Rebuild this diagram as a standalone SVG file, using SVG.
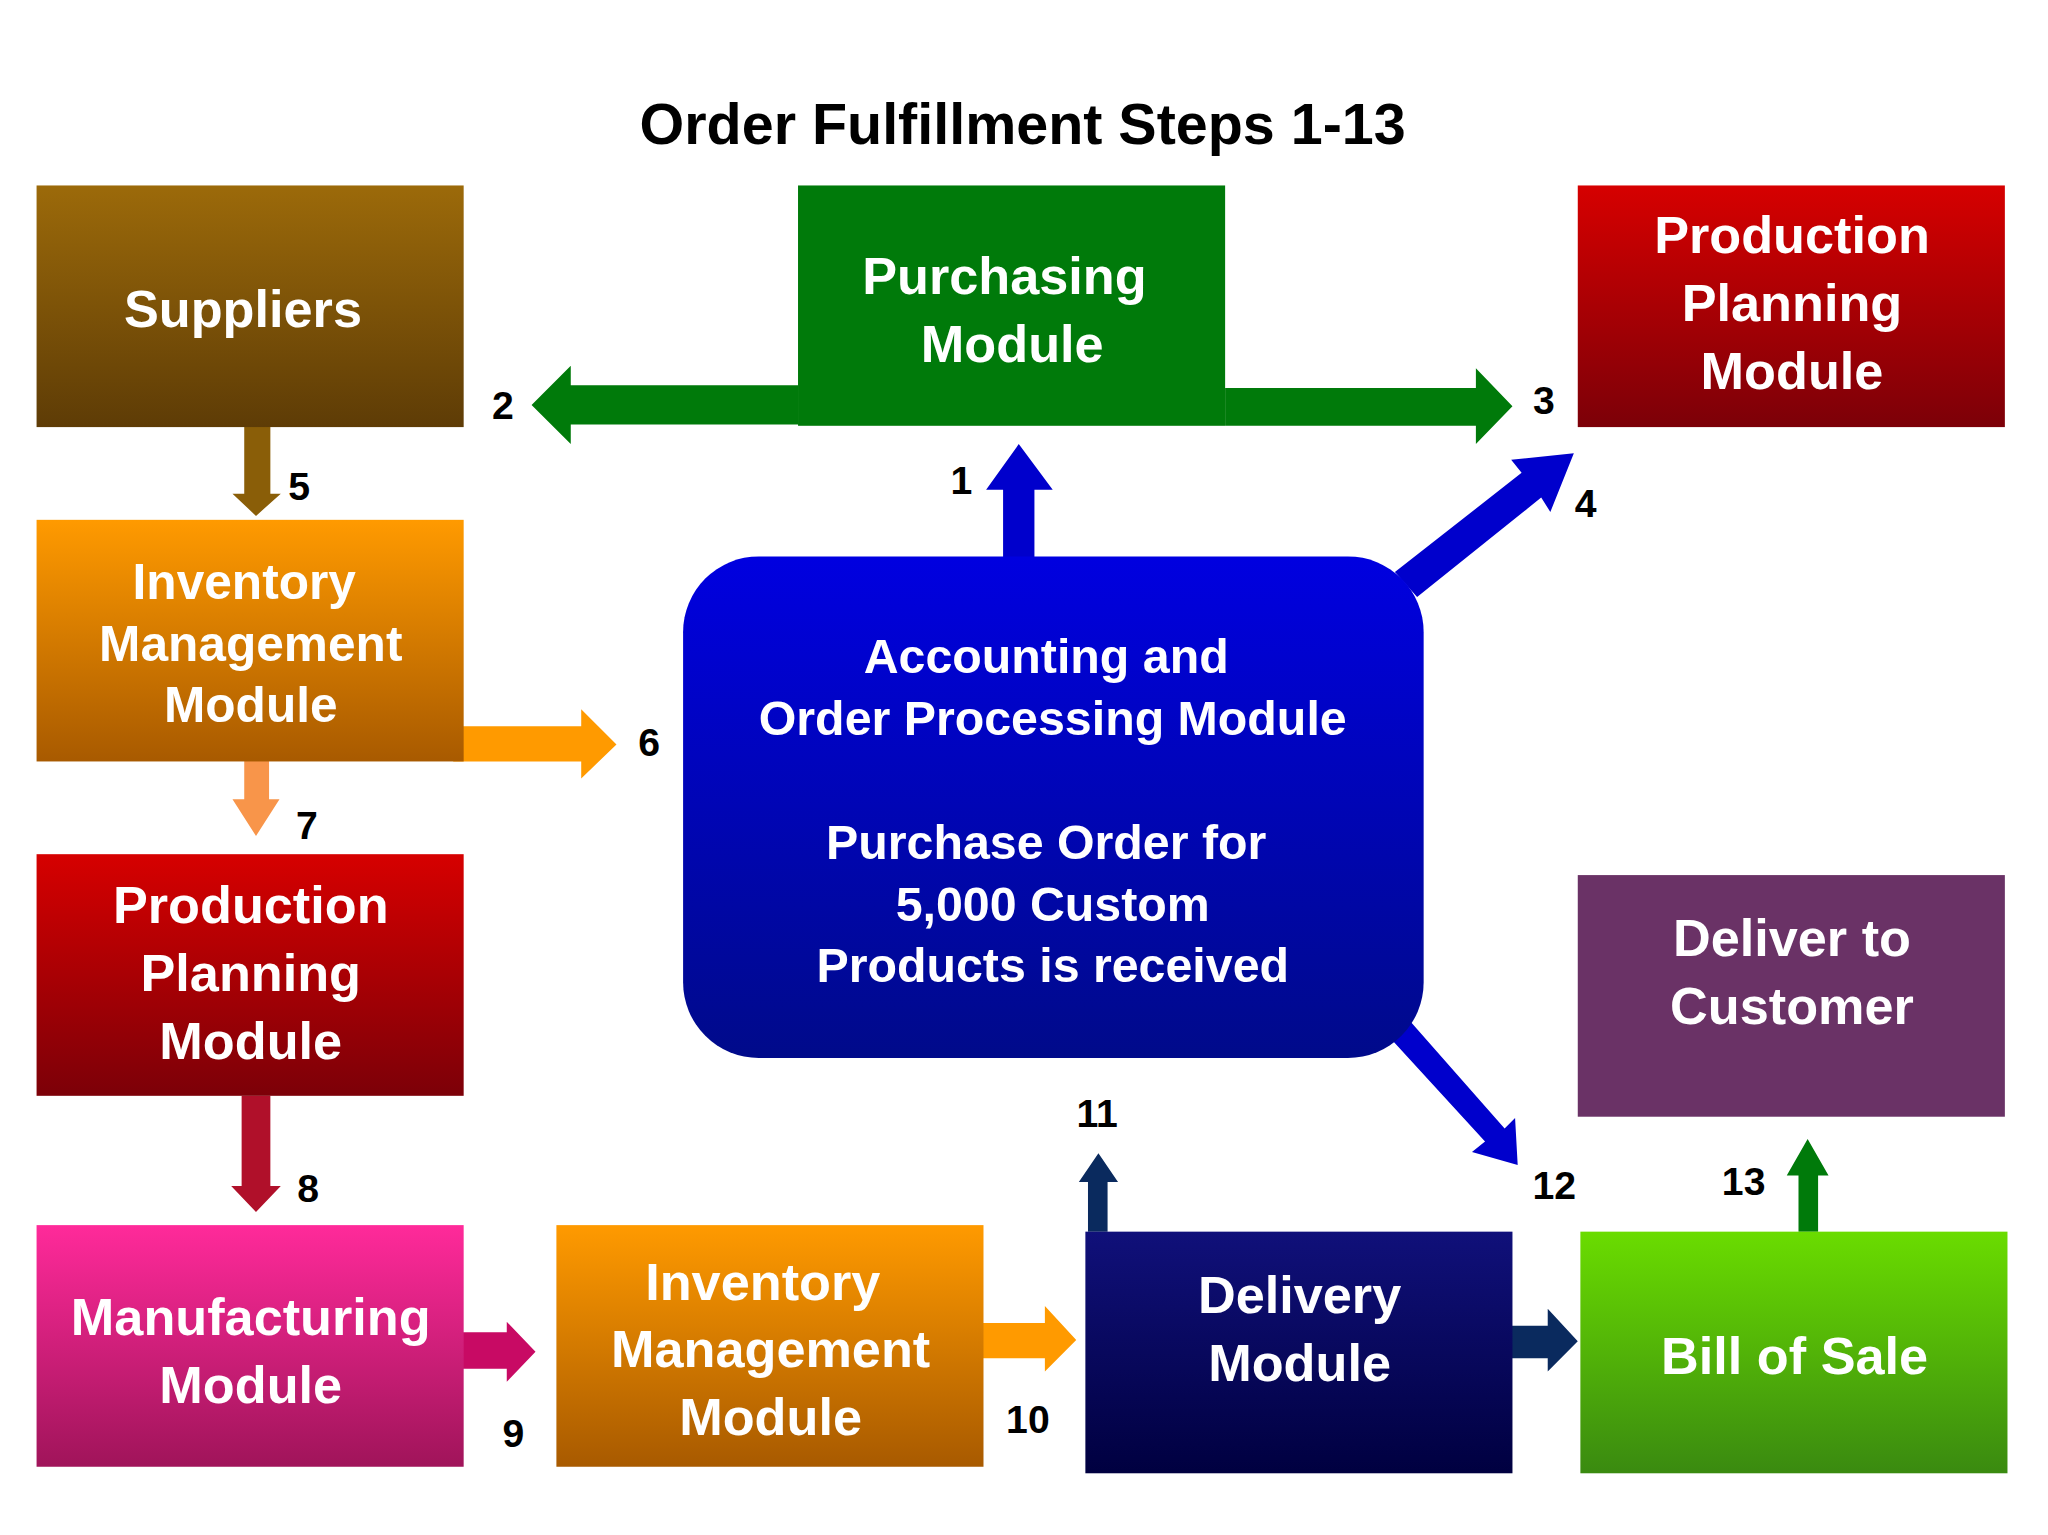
<svg xmlns="http://www.w3.org/2000/svg" width="2048" height="1535" viewBox="0 0 2048 1535">
<defs>
<linearGradient id="gSup" x1="0" y1="0" x2="0" y2="1"><stop offset="0" stop-color="#9c6a0a"/><stop offset="1" stop-color="#5e3c06"/></linearGradient>
<linearGradient id="gRed" x1="0" y1="0" x2="0" y2="1"><stop offset="0" stop-color="#d60000"/><stop offset="1" stop-color="#7c0008"/></linearGradient>
<linearGradient id="gOr" x1="0" y1="0" x2="0" y2="1"><stop offset="0" stop-color="#ff9a00"/><stop offset="1" stop-color="#a85a00"/></linearGradient>
<linearGradient id="gPink" x1="0" y1="0" x2="0" y2="1"><stop offset="0" stop-color="#ff2a9a"/><stop offset="1" stop-color="#a0145a"/></linearGradient>
<linearGradient id="gNavy" x1="0" y1="0" x2="0" y2="1"><stop offset="0" stop-color="#10107a"/><stop offset="1" stop-color="#000040"/></linearGradient>
<linearGradient id="gGreen" x1="0" y1="0" x2="0" y2="1"><stop offset="0" stop-color="#6adc00"/><stop offset="1" stop-color="#3a8a10"/></linearGradient>
<linearGradient id="gBlue" x1="0" y1="0" x2="0" y2="1"><stop offset="0" stop-color="#0000e0"/><stop offset="1" stop-color="#000a8a"/></linearGradient>
</defs>
<style>
text{font-family:"Liberation Sans",Arial,sans-serif;font-weight:bold;text-anchor:middle}
.b{fill:#fff;font-size:40px}
.n{fill:#000;font-size:30px}
</style>
<rect width="2048" height="1535" fill="#fff"/>
<g transform="scale(1.3061)">
<text x="783" y="110" style="font-size:44px;fill:#000">Order Fulfillment Steps 1-13</text>
<g id="connectors">
<polygon points="611,295 437,295 437,280 407,310 437,340 437,325 611,325" fill="#007a0a"/>
<polygon points="938,297 1130,297 1130,282 1158,311 1130,340 1130,326 938,326" fill="#007a0a"/>
<polygon points="768,430 768,375 755,375 780,340 806,375 792,375 792,430" fill="#0000cc"/>
<polygon points="1068,438 1165,362 1157,352 1205,347 1187,392 1180,381 1085,457" fill="#0000cc"/>
<polygon points="1060,790 1137,874 1127,882 1162,892 1160,856 1152,864 1078,780" fill="#0000cc"/>
<polygon points="187,327 187,378 178,378 196,395 215,378 207,378 207,327" fill="#8a5e08"/>
<polygon points="347,556 445,556 445,543 472,570 445,596 445,583 347,583" fill="#ff9a00"/>
<polygon points="187,573 187,612 178,612 196,640 214,612 206,612 206,573" fill="#f8954a"/>
<polygon points="185,839 185,908 177,908 196,928 215,908 207,908 207,839" fill="#b0102a"/>
<polygon points="350,1020 388,1020 388,1012 410,1035 388,1058 388,1048 350,1048" fill="#c80a64"/>
<polygon points="750,1013 800,1013 800,1000 824,1026 800,1050 800,1040 750,1040" fill="#ff9a00"/>
<polygon points="833,943 833,905 826,905 841,883 856,905 848,905 848,943" fill="#0a2a5e"/>
<polygon points="1155,1015 1185,1015 1185,1002 1208,1027 1185,1050 1185,1040 1155,1040" fill="#0a2a5e"/>
<polygon points="1377,943 1377,900 1368,900 1384,872 1400,900 1392,900 1392,943" fill="#007a0a"/>
<text class="n" x="385" y="321">2</text>
<text class="n" x="1182" y="317">3</text>
<text class="n" x="736" y="378">1</text>
<text class="n" x="1214" y="396">4</text>
<text class="n" x="229" y="383">5</text>
<text class="n" x="497" y="579">6</text>
<text class="n" x="235" y="642">7</text>
<text class="n" x="236" y="920">8</text>
<text class="n" x="393" y="1108">9</text>
<text class="n" x="787" y="1097">10</text>
<text class="n" x="840" y="863">11</text>
<text class="n" x="1190" y="918">12</text>
<text class="n" x="1335" y="915">13</text>
</g>
<g id="suppliers"><rect x="28" y="142" width="327" height="185" fill="url(#gSup)"/><text class="b" x="186" y="250">Suppliers</text></g>
<g id="purchasing"><rect x="611" y="142" width="327" height="184" fill="#007a0a"/><text class="b" x="769" y="225">Purchasing</text><text class="b" x="775" y="277">Module</text></g>
<g id="prodplan-top"><rect x="1208" y="142" width="327" height="185" fill="url(#gRed)"/><text class="b" x="1372" y="194">Production</text><text class="b" x="1372" y="246">Planning</text><text class="b" x="1372" y="298">Module</text></g>
<g id="inventory-left"><rect x="28" y="398" width="327" height="185" fill="url(#gOr)"/><text class="b" x="187" y="459" style="font-size:38px">Inventory</text><text class="b" x="192" y="506" style="font-size:38px">Management</text><text class="b" x="192" y="553" style="font-size:38px">Module</text></g>
<g id="prodplan-left"><rect x="28" y="654" width="327" height="185" fill="url(#gRed)"/><text class="b" x="192" y="707">Production</text><text class="b" x="192" y="759">Planning</text><text class="b" x="192" y="811">Module</text></g>
<g id="manufacturing"><rect x="28" y="938" width="327" height="185" fill="url(#gPink)"/><text class="b" x="192" y="1022">Manufacturing</text><text class="b" x="192" y="1074">Module</text></g>
<g id="inventory-bottom"><rect x="426" y="938" width="327" height="185" fill="url(#gOr)"/><text class="b" x="584" y="995">Inventory</text><text class="b" x="590" y="1047">Management</text><text class="b" x="590" y="1099">Module</text></g>
<g id="delivery"><rect x="831" y="943" width="327" height="185" fill="url(#gNavy)"/><text class="b" x="995" y="1005">Delivery</text><text class="b" x="995" y="1057">Module</text></g>
<g id="billofsale"><rect x="1210" y="943" width="327" height="185" fill="url(#gGreen)"/><text class="b" x="1374" y="1052">Bill of Sale</text></g>
<g id="delivercustomer"><rect x="1208" y="670" width="327" height="185" fill="#6a3266"/><text class="b" x="1372" y="732">Deliver to</text><text class="b" x="1372" y="784">Customer</text></g>
<g id="accounting"><rect x="523" y="426" width="567" height="384" rx="58" fill="url(#gBlue)"/>
<text class="b" x="801" y="515" style="font-size:37px">Accounting and</text>
<text class="b" x="806" y="563" style="font-size:37px">Order Processing Module</text>
<text class="b" x="801" y="658" style="font-size:37px">Purchase Order for</text>
<text class="b" x="806" y="705" style="font-size:37px">5,000 Custom</text>
<text class="b" x="806" y="752" style="font-size:37px">Products is received</text></g>
</g>
</svg>
